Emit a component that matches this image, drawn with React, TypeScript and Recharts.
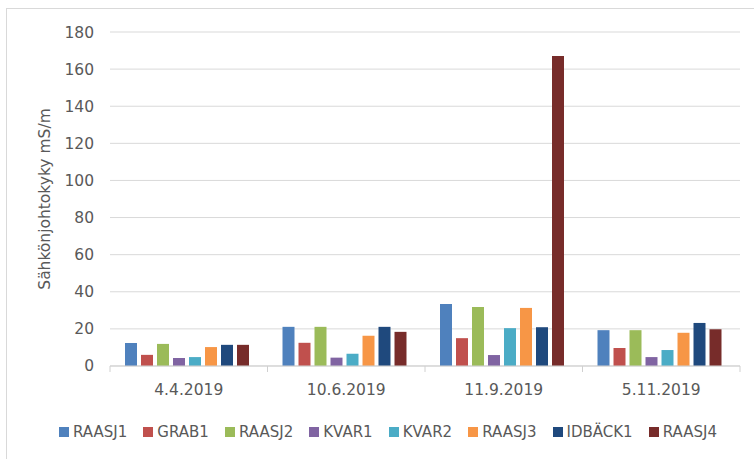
import React from 'react';
import { BarChart, Bar, XAxis, YAxis, CartesianGrid, Label } from 'recharts';

const dates = ['4.4.2019', '10.6.2019', '11.9.2019', '5.11.2019'];

const raasj1 = [12.4, 21.1, 33.4, 19.3];
const grab1 = [6.0, 12.5, 15.0, 9.7];
const raasj2 = [11.9, 21.1, 31.8, 19.3];
const kvar1 = [4.3, 4.5, 5.9, 4.8];
const kvar2 = [4.8, 6.6, 20.4, 8.6];
const raasj3 = [10.2, 16.3, 31.3, 17.9];
const idback1 = [11.4, 21.1, 20.9, 23.2];
const raasj4 = [11.4, 18.4, 167, 19.8];

const yTicks = [0, 20, 40, 60, 80, 100, 120, 140, 160, 180];

const series = [
  { key: 'RAASJ1', values: raasj1, color: '#4f81bd' },
  { key: 'GRAB1', values: grab1, color: '#c0504d' },
  { key: 'RAASJ2', values: raasj2, color: '#9bbb59' },
  { key: 'KVAR1', values: kvar1, color: '#8064a2' },
  { key: 'KVAR2', values: kvar2, color: '#4bacc6' },
  { key: 'RAASJ3', values: raasj3, color: '#f79646' },
  { key: 'IDBÄCK1', values: idback1, color: '#1f497d' },
  { key: 'RAASJ4', values: raasj4, color: '#772c2a' },
];

const data = dates.map((date, i) => {
  const row: Record<string, string | number> = { date };
  series.forEach((s) => {
    row[s.key] = s.values[i];
  });
  return row;
});

const W = 754;
const H = 459;
const LEFT = 110;
const RIGHT = 14;
const BAND = (W - LEFT - RIGHT) / dates.length;
const TEXT = '#595959';
const FONT = '"DejaVu Sans", sans-serif';

function DateTick(props: any) {
  const { x, y, payload, index } = props;
  return (
    <g>
      <line x1={x - BAND / 2} y1={y} x2={x - BAND / 2} y2={y + 6} stroke="#d0d0d0" />
      {index === dates.length - 1 && (
        <line x1={x + BAND / 2} y1={y} x2={x + BAND / 2} y2={y + 6} stroke="#d0d0d0" />
      )}
      <text x={x} y={y + 29} textAnchor="middle" fill={TEXT} fontSize={15.5} fontFamily={FONT}>
        {payload.value}
      </text>
    </g>
  );
}

export default function App() {
  return (
    <div style={{ position: 'absolute', left: 0, top: 0, width: W, height: H, overflow: 'hidden', background: '#fff' }}>
      <div
        style={{
          position: 'absolute',
          left: 6,
          top: 8,
          width: W,
          height: H,
          border: '1px solid #d9d9d9',
          boxSizing: 'border-box',
        }}
      />
      <BarChart
        width={W}
        height={H}
        data={data}
        margin={{ top: 32, right: RIGHT, left: 0, bottom: 93 }}
        barCategoryGap={15}
        barGap={4}
        style={{ position: 'absolute', left: 0, top: 0 }}
      >
        <CartesianGrid vertical={false} stroke="#d9d9d9" />
        <XAxis
          dataKey="date"
          height={0.01}
          axisLine={{ stroke: '#d0d0d0' }}
          tickLine={false}
          tickSize={0}
          tickMargin={0}
          tick={<DateTick />}
          interval={0}
        />
        <YAxis
          width={LEFT}
          domain={[0, 180]}
          ticks={yTicks}
          axisLine={false}
          tickLine={false}
          tickSize={0}
          tickMargin={16}
          tick={{ fill: TEXT, fontSize: 15.5, fontFamily: FONT }}
        >
          <Label
            content={({ viewBox }: any) => {
              const cx = viewBox.x + 45;
              const cy = viewBox.y + viewBox.height / 2;
              return (
                <text
                  x={cx}
                  y={cy}
                  transform={`rotate(-90 ${cx} ${cy})`}
                  textAnchor="middle"
                  dominantBaseline="central"
                  fill={TEXT}
                  fontSize={15.5}
                  fontFamily={FONT}
                >
                  Sähkönjohtokyky mS/m
                </text>
              );
            }}
          />
        </YAxis>
        {series.map((s) => (
          <Bar key={s.key} dataKey={s.key} fill={s.color} isAnimationActive={false} />
        ))}
      </BarChart>
      <div
        style={{
          position: 'absolute',
          left: 59,
          width: 658,
          top: 422,
          height: 20,
          display: 'flex',
          justifyContent: 'space-between',
          alignItems: 'center',
          fontFamily: FONT,
          fontSize: 15,
          color: TEXT,
        }}
      >
        {series.map((s) => (
          <div key={s.key} style={{ display: 'flex', alignItems: 'center' }}>
            <span style={{ width: 10, height: 10, background: s.color, marginRight: 4, display: 'inline-block' }} />
            <span>{s.key}</span>
          </div>
        ))}
      </div>
    </div>
  );
}
